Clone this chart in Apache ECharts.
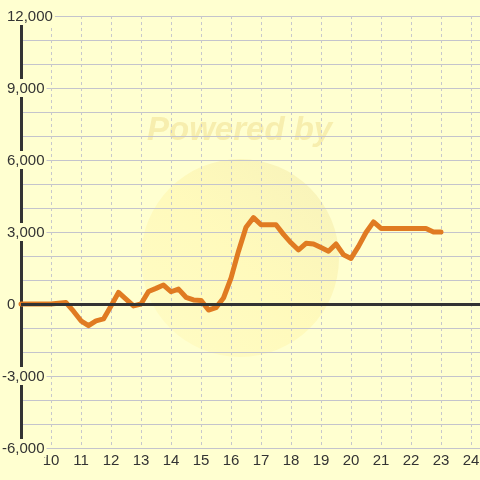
<!DOCTYPE html>
<html>
<head>
<meta charset="utf-8">
<script src="https://cdn.jsdelivr.net/npm/echarts@6/dist/echarts.min.js"></script>
<style>
html,body{margin:0;padding:0;background:#ffffd0;overflow:hidden;}
#chart{width:480px;height:480px;}
</style>
</head>
<body>
<div id="chart"></div>
<script>
var times = [9, 9.25, 9.5, 9.75, 10, 10.25, 10.5, 10.75, 11, 11.25, 11.5, 11.75,
  12, 12.25, 12.5, 12.75, 13, 13.25, 13.5, 13.75, 14, 14.25, 14.5, 14.75,
  15, 15.25, 15.5, 15.75, 16, 16.25, 16.5, 16.75, 17, 17.25, 17.5, 17.75,
  18, 18.25, 18.5, 18.75, 19, 19.25, 19.5, 19.75, 20, 20.25, 20.5, 20.75,
  21, 21.25, 21.5, 21.75, 22, 22.25, 22.5, 22.75, 23];
var values = [0, 0, 0, 0, 0, 30, 60, -300, -700, -900, -700, -620,
  -80, 480, 200, -80, 0, 520, 650, 790, 510, 620, 280, 170,
  150, -250, -150, 250, 1080, 2200, 3200, 3600, 3300, 3300, 3300, 2900,
  2550, 2250, 2530, 2500, 2350, 2200, 2500, 2050, 1900, 2400, 2980, 3420,
  3150, 3150, 3150, 3150, 3150, 3150, 3150, 3000, 3000];
var xTickLabels = [10, 11, 12, 13, 14, 15, 16, 17, 18, 19, 20, 21, 22, 23, 24];
var yTickLabels = [-6000, -3000, 0, 3000, 6000, 9000, 12000];

var BG = '#ffffd0';
var FONT = 'Liberation Sans, Arial, sans-serif';

function fmt(v) {
  var s = Math.abs(v).toString().replace(/\B(?=(\d{3})+(?!\d))/g, ',');
  return (v < 0 ? '-' : '') + s;
}

var chart = echarts.init(document.getElementById('chart'), null, {renderer: 'canvas'});
var data = times.map(function (t, i) { return [t, values[i]]; });

chart.setOption({
  animation: false,
  backgroundColor: BG,
  graphic: [
    {
      type: 'circle', z: -10, silent: true,
      shape: {cx: 240, cy: 258, r: 99},
      style: {
        fill: new echarts.graphic.LinearGradient(1, 0, 0, 1, [
          {offset: 0, color: 'rgba(235,225,160,0.45)'},
          {offset: 0.5, color: 'rgba(255,240,150,0.35)'},
          {offset: 1, color: 'rgba(255,245,170,0.3)'}
        ])
      }
    },
    {
      type: 'text', z: -10, silent: true,
      left: 147, top: 114,
      style: {
        text: 'Powered by',
        font: 'italic bold 33px ' + FONT,
        fill: 'rgba(240,222,140,0.5)'
      }
    }
  ],
  grid: {left: 21, right: -21, top: 16, bottom: 32, outerBoundsMode: 'none'},
  xAxis: {
    type: 'value', min: 9, max: 25, interval: 1,
    axisLine: {show: false},
    axisTick: {show: false},
    splitLine: {show: true, lineStyle: {color: '#c8c8cc', type: [3, 3], width: 1}},
    axisLabel: {
      margin: 5,
      color: '#333', fontSize: 15, fontFamily: FONT,
      formatter: function (v) {
        return xTickLabels.indexOf(v) >= 0 ? String(v) : '';
      }
    }
  },
  yAxis: [
    {
      type: 'value', min: -6000, max: 12000, interval: 1000,
      axisLine: {show: true, onZero: false, lineStyle: {color: '#333', width: 3}},
      axisTick: {show: false},
      axisLabel: {show: false},
      splitLine: {show: true, lineStyle: {color: '#c4c4cc', width: 1}}
    },
    {
      type: 'value', min: -6000, max: 12000, interval: 3000, position: 'left', z: 1,
      axisLine: {show: false},
      axisTick: {show: false},
      splitLine: {show: false},
      axisLabel: {
        margin: 19, align: 'left',
        color: '#333', fontSize: 15, fontFamily: FONT,
        backgroundColor: BG,
        padding: [2, 2, 1, 0],
        formatter: function (v) {
          if (yTickLabels.indexOf(v) < 0) return '';
          return v < 0 ? '{n|' + fmt(v) + '}' : '{p|' + fmt(v) + '}';
        },
        rich: {
          p: {padding: [0, 0, 0, 5], color: '#333', fontSize: 15, fontFamily: FONT},
          n: {color: '#333', fontSize: 15, fontFamily: FONT}
        }
      }
    }
  ],
  series: [
    {
      type: 'line', z: 1, yAxisIndex: 0,
      data: [[9, 0]], showSymbol: false, symbol: 'none',
      lineStyle: {opacity: 0}, silent: true,
      markLine: {
        silent: true, symbol: 'none',
        label: {show: false},
        lineStyle: {color: '#333', width: 3, type: 'solid'},
        data: [{yAxis: 0}]
      }
    },
    {
      type: 'line', z: 3, yAxisIndex: 0,
      data: data,
      showSymbol: false, symbol: 'none',
      lineStyle: {color: '#e07b22', width: 5, join: 'round', cap: 'round'}
    }
  ]
});
</script>
</body>
</html>
